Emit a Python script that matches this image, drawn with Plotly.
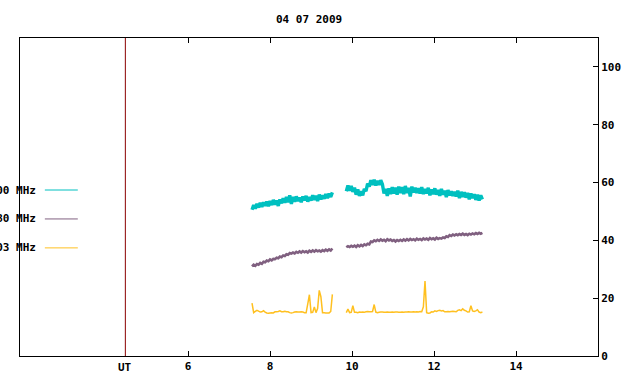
import numpy as np
import plotly.graph_objects as go

TITLE = "04 07 2009"
SERIES_NAMES = ["2800 MHz", "1880 MHz", "1003 MHz"]
COLORS = ["#00c0c0", "#806080", "#ffc020"]
X_TICKS = [6, 8, 10, 12, 14]
Y_TICKS = [0, 20, 40, 60, 80, 100]
UT_MARK = 4.47

# sampling grid of the two observation segments (UT hours)
SEG1_START, SEG2_START, STEP = 7.56, 9.86, 0.04

cyan_seg1 = [50.6, 52.2, 51.0, 52.6, 51.4, 53.0, 51.6, 53.2, 52.0, 53.4,
             51.8, 53.6, 52.2, 54.0, 52.4, 53.8, 51.9, 54.2, 52.8, 54.6,
             53.0, 55.0, 53.2, 55.6, 52.6, 55.0, 53.4, 55.2, 53.6, 54.8,
             53.2, 55.2, 53.8, 55.4, 53.4, 55.0, 53.8, 55.6, 54.0, 55.4,
             53.6, 55.8, 54.2, 55.6, 54.4, 56.0, 54.6, 56.2, 55.0, 56.6]
cyan_seg2 = [57.0, 59.0, 57.2, 58.8, 56.8, 58.2, 55.8, 57.6, 55.4, 57.0,
             55.6, 57.8, 57.0, 59.6, 58.6, 60.8, 59.2, 61.0, 59.0, 60.6,
             59.2, 60.8, 59.4, 56.2, 57.8, 55.4, 58.0, 56.0, 58.4, 56.2,
             58.2, 55.8, 58.6, 56.4, 58.4, 56.0, 58.8, 56.4, 58.2, 55.2,
             58.6, 56.6, 58.2, 56.4, 58.0, 56.2, 58.4, 56.0, 57.8, 56.2,
             58.2, 55.6, 57.6, 56.0, 58.0, 55.8, 57.4, 55.4, 57.8, 55.8,
             57.2, 55.0, 57.4, 55.6, 57.0, 55.4, 56.8, 55.2, 57.2, 54.6,
             56.8, 55.0, 56.6, 54.8, 56.4, 54.2, 56.2, 54.6, 56.0, 54.0,
             55.8, 53.8, 55.6, 54.2]

purple_seg1 = [31.0, 31.6, 31.2, 31.8, 31.6, 32.2, 31.9, 32.6, 32.4, 33.0,
               32.8, 33.4, 33.1, 33.6, 33.5, 34.0, 33.8, 34.4, 34.2, 34.8,
               34.6, 35.2, 35.0, 35.6, 35.4, 35.8, 35.5, 36.0, 35.7, 36.2,
               35.8, 36.3, 35.9, 36.2, 35.8, 36.4, 36.0, 36.5, 36.1, 36.6,
               36.2, 36.5, 36.1, 36.6, 36.3, 36.8, 36.4, 36.9, 36.5, 37.2]
purple_seg2 = [37.6, 38.0, 37.7, 38.1, 37.8, 38.2, 37.7, 38.3, 37.9, 38.4,
               38.0, 38.6, 38.3, 38.8, 38.6,
               39.6, 39.4, 40.0, 39.7,
               40.2, 39.8, 40.3, 39.9, 40.2, 39.7, 40.4, 40.0, 40.3, 39.8,
               40.1, 39.6, 40.1, 39.8, 40.2, 39.8, 40.3, 39.9, 40.4, 40.0,
               40.5, 40.1, 40.4, 40.0, 40.6, 40.2, 40.5, 40.1, 40.7, 40.3,
               40.6, 40.2, 40.8, 40.4, 40.7, 40.3, 40.9, 40.5, 40.8, 40.6,
               41.0, 40.8, 41.4, 41.2, 41.8, 41.5, 42.0,
               41.7, 42.1, 41.8, 42.2, 41.9, 42.3, 41.9, 42.2, 41.8, 42.3,
               42.0, 42.4, 42.1, 42.5, 42.2, 42.6, 42.3, 42.6]

yellow_seg1 = [18.3, 15.0, 15.4, 15.8, 15.5, 15.2, 15.3, 15.7, 15.2, 14.9,
               14.8, 14.9, 15.0, 14.9, 15.3, 15.3, 15.4, 15.6, 15.3, 15.3,
               15.5, 15.3, 15.3, 15.0, 14.9, 15.0, 15.2, 15.3, 15.2, 15.2,
               15.3, 15.2, 15.0, 15.0, 18.0, 21.2, 15.0, 15.1, 17.0, 15.0,
               16.4, 22.7, 20.5, 15.0, 15.0, 14.9, 14.9, 14.9, 15.4, 21.3]
yellow_seg2 = [15.0, 16.2, 15.0, 15.1, 17.4, 15.1, 15.1, 15.0, 15.2, 15.1,
               15.2, 15.1, 15.3, 15.4, 15.3, 15.3, 15.4, 17.8, 15.2, 15.0,
               15.1, 15.2, 15.2, 15.1, 15.1, 15.2, 15.1, 15.1, 15.2, 15.1,
               15.2, 15.2, 15.1, 15.1, 15.2, 15.1, 15.2, 15.2, 15.3, 15.2,
               15.2, 15.3, 15.2, 15.3, 15.2, 15.4, 15.3, 17.0, 25.9, 15.0,
               14.8, 14.9, 15.3, 15.2, 15.6, 15.4, 15.7, 15.8, 15.6, 15.7,
               15.3, 15.3, 15.4, 15.3, 15.4, 15.5, 15.4, 15.3, 15.8, 16.0,
               15.7, 16.3, 15.8, 15.6, 15.2, 15.3, 17.4, 15.6, 15.4, 15.6,
               16.0, 15.2, 15.0, 15.2]


def times(start, n):
    return [round(start + STEP * i, 3) for i in range(n)]


FONT = dict(family="DejaVu Sans Mono", size=11, color="black", weight="bold")

fig = go.Figure()
all_series = [(cyan_seg1, cyan_seg2), (purple_seg1, purple_seg2), (yellow_seg1, yellow_seg2)]
widths = [3.4, 2.6, 1.5]
for (s1, s2), color, name, w in zip(all_series, COLORS, SERIES_NAMES, widths):
    x = times(SEG1_START, len(s1)) + [None] + times(SEG2_START, len(s2))
    y = list(s1) + [None] + list(s2)
    fig.add_trace(go.Scatter(x=x, y=y, mode="lines", name=name,
                             line=dict(color=color, width=w, simplify=False),
                             connectgaps=False, showlegend=False))

# UT marker line
fig.add_shape(type="line", xref="x", yref="paper", x0=UT_MARK, x1=UT_MARK, y0=0, y1=1,
              line=dict(color="#8b0000", width=1))
fig.add_annotation(x=UT_MARK, xref="x", y=-0.01, yref="paper", text="UT", showarrow=False,
                   font=FONT, xanchor="center", yanchor="top")

# manual legend at the left edge
legend_y = [0.522, 0.431, 0.340]
for name, color, ly in zip(SERIES_NAMES, COLORS, legend_y):
    fig.add_annotation(x=0.031, xref="paper", y=ly, yref="paper", text=name,
                       showarrow=False, font=FONT, xanchor="right", yanchor="middle")
    fig.add_shape(type="line", xref="paper", yref="paper", x0=0.043, x1=0.100,
                  y0=ly, y1=ly, line=dict(color=color, width=1))

fig.update_layout(
    width=640, height=384,
    margin=dict(l=20, r=42, t=38, b=28),
    paper_bgcolor="white", plot_bgcolor="white",
    title=dict(text=TITLE, x=0.483, xanchor="center", y=0.95, yanchor="middle", font=FONT),
    font=FONT,
    showlegend=False,
)
fig.update_xaxes(range=[1.9, 16.0], tickvals=X_TICKS, ticktext=[str(v) for v in X_TICKS],
                 ticks="inside", ticklen=5, tickcolor="black", showline=True, linecolor="black",
                 linewidth=1, mirror="allticks", showgrid=False, zeroline=False, tickfont=FONT)
fig.update_yaxes(range=[0, 110], tickvals=Y_TICKS, side="right", ticks="inside", ticklen=5,
                 tickcolor="black", showline=True, linecolor="black", linewidth=1, mirror=True,
                 showgrid=False, zeroline=False, tickfont=FONT)

fig.write_html("out.html", config={"displayModeBar": False},
               post_script="document.body.style.margin='0';document.body.style.padding='0';")
